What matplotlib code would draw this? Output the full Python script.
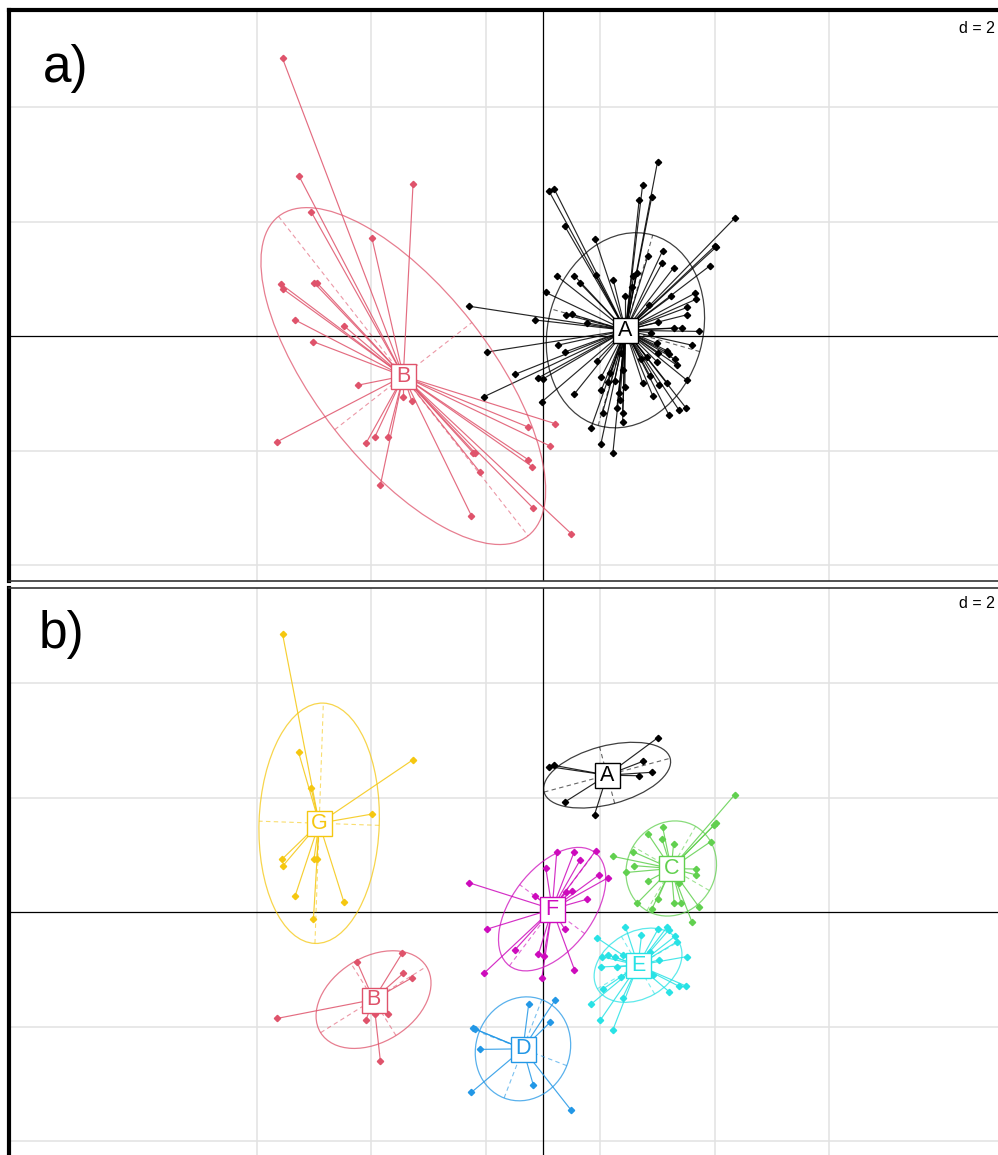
import numpy as np
import matplotlib.pyplot as plt
from matplotlib.patches import Ellipse

plt.rc('font', family=['Liberation Sans', 'DejaVu Sans'])

# group colours (R 4 palette, as used by ade4)
colors = {'A': '#000000', 'B': '#DF536B', 'C': '#61D04F', 'D': '#2297E6',
          'E': '#28E2E5', 'F': '#CD0BBC', 'G': '#F5C710'}

# ---- panel a) : two classes ----
a_A = [(2.00, 3.04), (1.74, 2.64), (0.10, 2.54), (0.20, 2.56), (1.68, 2.38), (1.90, 2.43),
       (3.35, 2.06), (0.38, 1.92), (0.91, 1.70), (3.00, 1.57), (3.02, 1.55), (2.09, 1.49),
       (1.83, 1.39), (2.92, 1.23), (2.08, 1.27), (2.28, 1.19), (0.24, 1.05), (0.55, 1.05),
       (0.65, 0.92), (0.92, 1.07), (1.23, 0.97), (1.58, 1.04), (1.44, 0.70), (2.66, 0.75),
       (2.67, 0.64), (0.05, 0.76), (2.24, 0.69), (2.52, 0.50), (1.85, 0.54), (-1.29, 0.52),
       (0.41, 0.37), (0.50, 0.38), (-0.14, 0.28), (0.77, 0.23), (2.01, 0.24), (2.29, 0.14),
       (2.42, 0.14), (2.73, 0.08), (1.89, 0.06), (-0.98, -0.28), (0.26, -0.16), (0.38, -0.28),
       (2.60, -0.16), (2.00, -0.30), (2.17, -0.26), (2.20, -0.31), (0.94, -0.43), (1.72, -0.41),
       (2.31, -0.41), (2.34, -0.51), (1.99, -0.45), (-0.49, -0.67), (-0.08, -0.73), (0.00, -0.75),
       (2.51, -0.77), (1.87, -0.70), (1.74, -0.82), (2.02, -0.86), (2.17, -0.82), (1.14, -0.80),
       (1.25, -0.78), (1.02, -0.94), (1.43, -0.89), (-1.03, -1.06), (0.55, -1.01), (-0.02, -1.15),
       (1.34, -1.12), (1.29, -1.26), (1.92, -1.05), (2.38, -1.30), (2.50, -1.26), (2.20, -1.38),
       (1.04, -1.34), (1.39, -1.35), (0.84, -1.60), (1.39, -1.51), (1.01, -1.89), (1.22, -2.05),
       (1.02, -0.71), (1.17, -0.65), (1.39, -0.59), (1.32, -1.00), (1.37, -0.30), (1.64, 1.10),
       (1.55, 0.86), (2.51, 0.37), (1.99, -0.13), (1.81, -0.36)]
a_B = [(-4.55, 4.85), (-4.26, 2.79), (-2.27, 2.66), (-4.05, 2.17), (-2.99, 1.72), (-4.58, 0.91),
       (-4.54, 0.82), (-4.00, 0.93), (-3.95, 0.93), (-4.33, 0.28), (-3.48, 0.18), (-4.01, -0.10),
       (-3.24, -0.86), (-4.65, -1.85), (-2.46, -0.72), (-2.44, -1.07), (-2.29, -1.14),
       (-3.09, -1.87), (-2.94, -1.77), (-2.71, -1.76), (-2.84, -2.60), (-1.25, -3.14),
       (-1.22, -2.04), (-1.18, -2.05), (-1.10, -2.38), (-0.26, -1.59), (0.21, -1.53),
       (0.12, -1.92), (-0.26, -2.16), (-0.19, -2.28), (-0.17, -3.01), (0.49, -3.45)]

# ---- panel b) : seven classes ----
b_A = [(2.00, 3.04), (1.74, 2.63), (0.10, 2.54), (0.20, 2.56), (1.68, 2.38), (1.90, 2.44),
       (0.38, 1.92), (0.90, 1.70)]
b_B = [(-4.65, -1.86), (-3.25, -0.87), (-2.46, -0.72), (-2.44, -1.07), (-2.29, -1.15),
       (-3.09, -1.88), (-2.94, -1.78), (-2.71, -1.78), (-2.84, -2.61)]
b_C = [(3.35, 2.05), (3.02, 1.55), (2.99, 1.52), (2.09, 1.48), (1.83, 1.37), (2.93, 1.23),
       (2.08, 1.27), (2.28, 1.18), (1.23, 0.97), (1.58, 1.05), (2.67, 0.75), (2.67, 0.65),
       (1.59, 0.81), (1.45, 0.69), (1.83, 0.54), (2.37, 0.50), (1.64, 0.15), (1.90, 0.05),
       (2.29, 0.16), (2.41, 0.16), (2.73, 0.08), (2.60, -0.17), (2.00, 0.22)]
b_D = [(-0.25, -1.61), (0.21, -1.54), (0.12, -1.93), (-1.22, -2.03), (-1.18, -2.05),
       (-1.10, -2.40), (-1.25, -3.15), (-0.17, -3.02), (0.49, -3.46)]
b_E = [(1.44, -0.26), (1.72, -0.41), (2.01, -0.30), (2.17, -0.26), (2.20, -0.31), (2.31, -0.42),
       (2.34, -0.52), (0.94, -0.45), (2.51, -0.78), (1.87, -0.69), (1.03, -0.78), (1.14, -0.75),
       (1.25, -0.79), (1.39, -0.75), (1.02, -0.96), (1.29, -0.96), (1.37, -1.13), (1.04, -1.35),
       (1.39, -1.50), (2.20, -1.39), (2.38, -1.30), (2.49, -1.29), (0.84, -1.61), (1.93, -1.10),
       (2.02, -0.84), (1.00, -1.89), (1.22, -2.06)]
b_F = [(-1.29, 0.51), (-0.98, -0.30), (-1.03, -1.07), (-0.49, -0.66), (-0.08, -0.74),
       (0.01, -0.77), (-0.02, -1.15), (0.55, -1.01), (0.38, -0.30), (0.24, 1.05), (0.54, 1.04),
       (0.92, 1.07), (0.05, 0.76), (0.98, 0.65), (1.14, 0.60), (-0.14, 0.28), (0.41, 0.35),
       (0.50, 0.37), (0.76, 0.22), (0.65, 0.91)]
b_G = [(-4.55, 4.86), (-4.27, 2.79), (-2.27, 2.66), (-4.05, 2.16), (-2.99, 1.71), (-4.56, 0.92),
       (-4.54, 0.81), (-4.00, 0.93), (-3.95, 0.93), (-4.33, 0.28), (-3.48, 0.18), (-4.01, -0.12)]

# class ellipses: centre x, centre y, semi-major, semi-minor, angle (deg)
ell_a = {'A': (1.44, 0.10, 1.73, 1.35, 74), 'B': (-2.44, -0.70, 3.54, 1.52, -52)}
ell_b = {'A': (1.12, 2.39, 1.14, 0.51, 15), 'B': (-2.96, -1.53, 1.09, 0.74, 32),
         'C': (2.24, 0.76, 0.85, 0.77, 60), 'D': (-0.35, -2.39, 0.92, 0.82, 69),
         'E': (1.66, -0.93, 0.82, 0.58, 30), 'F': (0.16, 0.05, 1.24, 0.71, 53),
         'G': (-3.91, 1.55, 2.10, 1.05, 88)}

groups_a = {'A': a_A, 'B': a_B}
groups_b = {'A': b_A, 'B': b_B, 'C': b_C, 'D': b_D, 'E': b_E, 'F': b_F, 'G': b_G}

# ---- layout (pixels of the 998x1155 picture) ----
W, H = 998, 1155
UNIT = 57.25          # pixels per data unit (grid step d = 2)
X0 = 543              # x pixel of the origin


def add_panel(top, bottom, y0):
    ax = fig.add_axes([9 / W, (H - bottom) / H, (1000 - 9) / W, (bottom - top) / H])
    ax.set_xlim((9 - X0) / UNIT, (1000 - X0) / UNIT)
    ax.set_ylim((y0 - bottom) / UNIT, (y0 - top) / UNIT)
    ax.set_xticks([])
    ax.set_yticks([])
    for v in [-5, -3, -1, 1, 3, 5]:
        ax.axvline(v, color='#e2e2e2', lw=1.1, zorder=0)
    for v in [-4, -2, 2, 4]:
        ax.axhline(v, color='#e2e2e2', lw=1.1, zorder=0)
    ax.axhline(0, color='black', lw=0.9, zorder=0.5)
    ax.axvline(0, color='black', lw=0.9, zorder=0.5)
    ax.spines['right'].set_visible(False)
    return ax


def draw_class(ax, name, pts, ell):
    col = colors[name]
    pts = np.array(pts)
    cx, cy, a, b, ang = ell
    for x, y in pts:
        ax.plot([cx, x], [cy, y], color=col, lw=0.85, alpha=0.85, zorder=2)
    ax.plot(pts[:, 0], pts[:, 1], 'D', color=col, ms=3.2, zorder=3)
    ax.add_patch(Ellipse((cx, cy), 2 * a, 2 * b, angle=ang, fill=False,
                         ec=col, lw=0.9, alpha=0.75, zorder=2))
    t = np.deg2rad(ang)
    ax.plot([cx - a * np.cos(t), cx + a * np.cos(t)], [cy - a * np.sin(t), cy + a * np.sin(t)],
            ls=(0, (4, 3)), color=col, lw=0.8, alpha=0.6, zorder=2)
    ax.plot([cx + b * np.sin(t), cx - b * np.sin(t)], [cy - b * np.cos(t), cy + b * np.cos(t)],
            ls=(0, (4, 3)), color=col, lw=0.8, alpha=0.6, zorder=2)


def draw_label(ax, name, ell):
    col = colors[name]
    cx, cy = ell[0], ell[1]
    ax.plot(cx, cy, 's', ms=18, mfc='white', mec=col, mew=1.0, alpha=1, zorder=5)
    ax.text(cx, cy, name, color=col, fontsize=15.5, ha='center', va='center', zorder=6)


fig = plt.figure(figsize=(W / 100, H / 100), dpi=100)

ax1 = add_panel(10.3, 580.5, 336)
ax2 = add_panel(587.5, 1160, 912)

for ax, groups, ells in [(ax1, groups_a, ell_a), (ax2, groups_b, ell_b)]:
    for name in groups:
        draw_class(ax, name, groups[name], ells[name])
    for name in groups:
        draw_label(ax, name, ells[name])

ax1.spines['top'].set_linewidth(3.0)
ax1.spines['left'].set_linewidth(3.0)
ax1.spines['bottom'].set_linewidth(1.2)
ax1.spines['bottom'].set_color('#333333')
ax2.spines['top'].set_linewidth(1.2)
ax2.spines['top'].set_color('#333333')
ax2.spines['left'].set_linewidth(3.0)
ax2.spines['bottom'].set_visible(False)

fig.text(43 / W, 1 - 82 / H, 'a)', fontsize=37, va='baseline', ha='left')
fig.text(39 / W, 1 - 648 / H, 'b)', fontsize=37, va='baseline', ha='left')
fig.text(995 / W, 1 - 33 / H, 'd = 2', fontsize=11.5, va='baseline', ha='right')
fig.text(995 / W, 1 - 608 / H, 'd = 2', fontsize=11.5, va='baseline', ha='right')

fig.savefig('out.png', dpi=100)
